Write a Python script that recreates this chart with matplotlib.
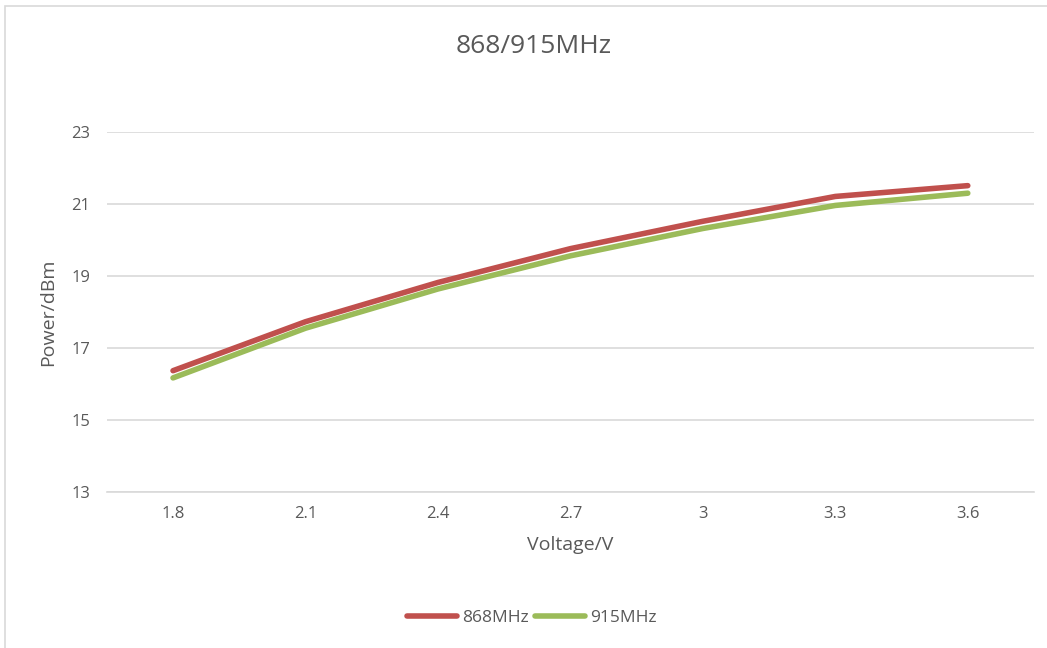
import matplotlib.pyplot as plt
from matplotlib.patches import Rectangle

# data
voltage = ['1.8', '2.1', '2.4', '2.7', '3', '3.3', '3.6']
power_868 = [16.37, 17.73, 18.82, 19.76, 20.52, 21.21, 21.51]
power_915 = [16.17, 17.55, 18.64, 19.56, 20.32, 20.96, 21.30]
y_ticks = [13, 15, 17, 19, 21, 23]

plt.rcParams['font.family'] = ['Open Sans', 'DejaVu Sans']
text_color = '#595959'
grid_color = '#D9D9D9'

fig = plt.figure(figsize=(10.47, 6.48), dpi=100)
ax = fig.add_axes([0.102, 0.2407, 0.8856, 0.5556])

# chart border
fig.patches.append(Rectangle((0.005, -0.01), 0.998, 1.0, transform=fig.transFigure,
                             fill=False, edgecolor='#D9D9D9', linewidth=1.2))

x = range(len(voltage))
ax.plot(x, power_868, color='#C0504D', linewidth=4, solid_capstyle='round', label='868MHz')
ax.plot(x, power_915, color='#9BBB59', linewidth=4, solid_capstyle='round', label='915MHz')

ax.set_xlim(-0.5, len(voltage) - 0.5)
ax.set_ylim(13, 23)
ax.set_xticks(list(x))
ax.set_xticklabels(voltage)
ax.set_yticks(y_ticks)
ax.tick_params(length=0, labelsize=12, colors=text_color, pad=12)
ax.tick_params(axis='x', pad=10)

ax.grid(axis='y', color=grid_color, linewidth=1.2)
ax.set_axisbelow(True)
for s in ['top', 'right', 'left']:
    ax.spines[s].set_visible(False)
ax.spines['bottom'].set_color(grid_color)
ax.spines['bottom'].set_linewidth(1.2)

ax.set_xlabel('Voltage/V', fontsize=14, color=text_color, labelpad=10)
ax.set_ylabel('Power/dBm', fontsize=14, color=text_color, labelpad=10)
fig.text(0.51, 0.928, '868/915MHz', ha='center', va='center', fontsize=19, color=text_color)

fig.legend(loc='center', bbox_to_anchor=(0.508, 0.047), ncol=2, frameon=False,
           fontsize=12.5, labelcolor=text_color, handlelength=2.9, columnspacing=0.3,
           handletextpad=0.3)

fig.savefig('out.png', dpi=100, facecolor='white')
